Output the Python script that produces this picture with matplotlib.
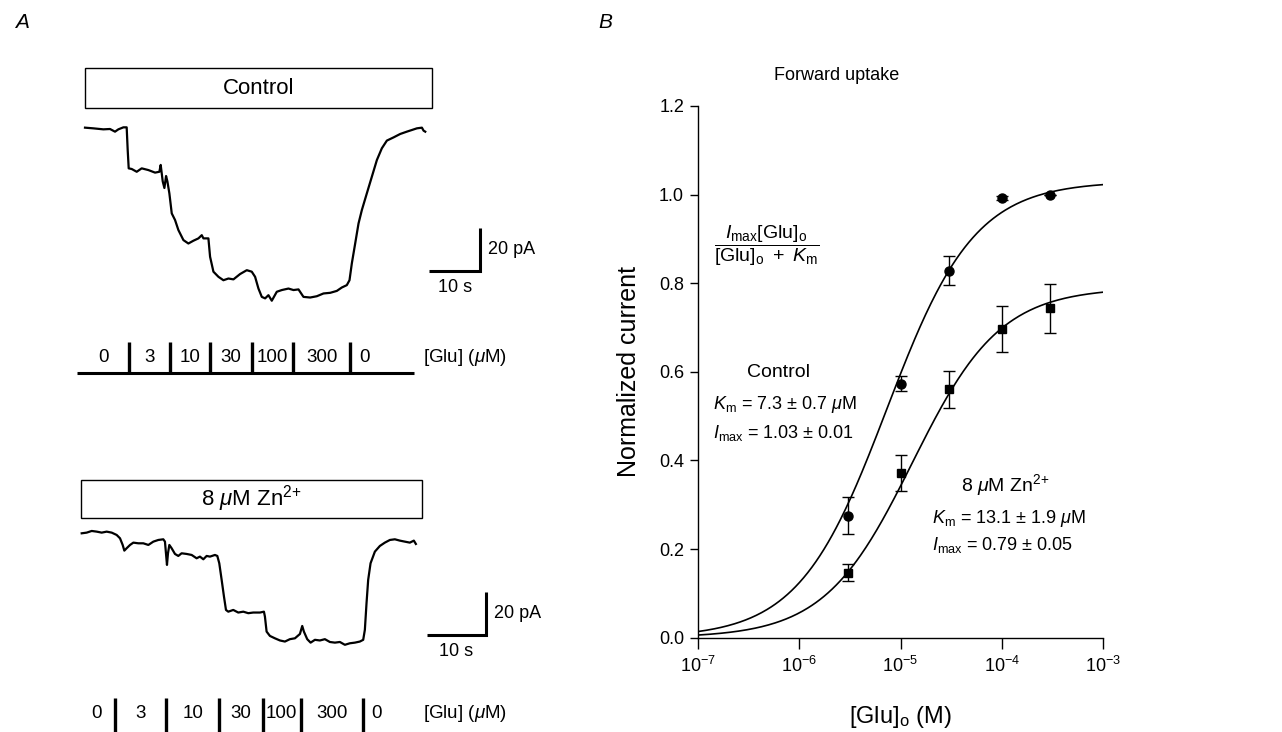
import numpy as np
import matplotlib.pyplot as plt
from matplotlib.patches import Rectangle

plt.rcParams['font.family'] = ['Liberation Sans', 'DejaVu Sans']
plt.rcParams['mathtext.fontset'] = 'custom'
plt.rcParams['mathtext.rm'] = 'Liberation Sans'
plt.rcParams['mathtext.it'] = 'Liberation Sans:italic'
plt.rcParams['mathtext.bf'] = 'Liberation Sans:bold'

# ---- panel A: current traces (time in s, current in pA) ----
ctrl_t = [0.0, 1.64, 3.62, 4.93, 5.92, 6.58, 7.57, 8.22, 8.42, 8.62, 9.21, 10.20,
          11.18, 12.50, 13.82, 14.67, 14.93, 15.33, 15.66, 15.99, 16.25, 16.64,
          17.11, 17.76, 18.42, 19.41, 20.39, 21.38, 22.37, 23.03, 23.36, 24.34,
          24.67, 25.33, 26.32, 27.30, 28.29, 29.28, 30.59, 31.91, 32.89, 33.55,
          34.21, 34.87, 35.53, 36.18, 36.84, 37.83, 38.82, 40.13, 41.12, 42.11,
          43.09, 44.41, 45.72, 47.04, 48.36, 49.67, 50.66, 51.64, 52.17, 52.63,
          53.29, 53.95, 54.61, 55.59, 56.58, 57.57, 58.55, 59.54, 60.86, 62.17,
          63.49, 64.47, 65.46, 66.45, 66.78, 67.11]
ctrl_i = [0.16, -0.16, -0.63, -0.47, -1.72, -0.63, 0.31, 0.31, -10.3, -18.9, -19.2,
          -20.5, -18.9, -19.7, -20.9, -20.5, -17.3, -25.0, -28.1, -22.5, -25.0,
          -30.6, -40.0, -43.1, -47.8, -52.5, -54.1, -52.8, -51.7, -50.2, -51.7,
          -51.7, -60.3, -67.3, -69.7, -71.3, -70.5, -70.9, -68.4, -66.6, -67.3,
          -69.7, -75.2, -79.1, -79.8, -78.3, -80.9, -76.7, -75.9, -75.2, -75.9,
          -75.6, -79.1, -79.4, -78.8, -77.5, -77.2, -76.3, -74.7, -73.6, -71.3,
          -63.4, -54.1, -44.7, -38.4, -30.6, -22.8, -15.0, -9.5, -5.9, -4.4, -2.8,
          -1.7, -0.94, -0.16, 0.16, -1.25, -1.72]

zn_t = [0.0, 0.84, 1.69, 2.53, 3.37, 4.21, 5.06, 5.90, 6.46, 6.91, 7.19, 7.58, 8.15,
        8.71, 9.55, 10.39, 11.24, 12.08, 12.92, 13.76, 14.04, 14.21, 14.38, 14.55,
        14.78, 15.17, 15.73, 16.29, 16.85, 17.70, 18.54, 19.38, 19.94, 20.51,
        21.07, 21.63, 22.47, 22.87, 23.20, 23.60, 23.99, 24.33, 24.72, 25.56,
        26.40, 27.25, 28.09, 28.93, 30.06, 30.73, 30.90, 31.18, 31.74, 32.58,
        33.43, 34.27, 35.11, 35.96, 36.80, 37.19, 37.47, 38.03, 38.60, 39.33,
        40.17, 41.01, 41.85, 42.70, 43.54, 44.38, 45.22, 46.07, 46.91, 47.47,
        47.75, 48.03, 48.31, 48.71, 49.44, 50.28, 51.12, 51.97, 52.81, 53.65,
        54.49, 55.34, 56.01, 56.35]
zn_i = [0.0, 0.31, 1.08, 0.77, 0.31, 0.77, 0.31, -0.77, -2.31, -5.38, -8.0, -6.9,
        -5.38, -4.31, -4.62, -4.62, -5.38, -3.85, -3.08, -2.77, -3.85, -9.23,
        -14.6, -9.23, -5.38, -6.92, -9.54, -10.46, -9.23, -9.54, -10.0, -11.54,
        -10.77, -12.0, -10.46, -10.77, -10.0, -10.46, -13.85, -21.5, -29.2,
        -35.4, -36.2, -35.4, -36.6, -36.2, -36.9, -36.6, -36.6, -36.2, -38.5,
        -45.4, -47.4, -48.5, -49.5, -50.0, -48.9, -48.5, -46.5, -42.8, -45.4,
        -48.9, -50.5, -49.2, -49.5, -48.9, -50.2, -50.5, -50.2, -51.5, -50.8,
        -50.5, -50.0, -49.2, -44.6, -32.3, -21.5, -13.85, -8.46, -5.85, -4.31,
        -3.08, -2.77, -3.38, -3.85, -4.31, -3.38, -4.92]

glu_steps = ['0', '3', '10', '30', '100', '300', '0']
ctrl_changes = [8.74, 16.77, 24.65, 32.88, 41.08, 52.27]   # s
zn_changes = [5.62, 14.3, 23.2, 30.5, 36.9, 47.4]          # s

# ---- panel B: concentration-response ----
glu_conc = [3e-6, 1e-5, 3e-5, 1e-4, 3e-4]
ctrl_mean = [0.275, 0.573, 0.828, 0.993, 1.0]
ctrl_err = [0.042, 0.017, 0.033, 0.005, 0.0]
zn_mean = [0.147, 0.371, 0.561, 0.697, 0.743]
zn_err = [0.02, 0.041, 0.042, 0.052, 0.055]
ctrl_km, ctrl_imax = 7.3e-6, 1.03
zn_km, zn_imax = 13.1e-6, 0.79

ZN_LABEL = r'8 $\mu$M Zn$^{2\!+}$'

W, H = 1282, 732
fig = plt.figure(figsize=(W / 100, H / 100), dpi=100)


def px_axes(x0, y0, x1, y1):
    return fig.add_axes([x0 / W, 1 - y1 / H, (x1 - x0) / W, (y1 - y0) / H])


def trace_block(top, bot, ox, oy, sec_px, pa_px, t, cur, changes, box, box_text,
                bar_corner, prot_y, tick_top, lab_y, prot_x):
    ax = px_axes(60, top, 520, bot)
    dx = lambda p: (p - ox) / sec_px
    dy = lambda p: (oy - p) / pa_px
    ax.set_xlim(dx(60), dx(520))
    ax.set_ylim(dy(bot), dy(top))
    ax.axis('off')

    ax.plot(t, cur, color='black', lw=1.6, solid_joinstyle='round')

    # solution box
    bx0, by0, bx1, by1 = box
    ax.add_patch(Rectangle((dx(bx0), dy(by1)), dx(bx1) - dx(bx0), dy(by0) - dy(by1),
                           fill=False, ec='black', lw=1.0))
    ax.text((dx(bx0) + dx(bx1)) / 2, (dy(by0) + dy(by1)) / 2, box_text,
            ha='center', va='center', fontsize=16)

    # scale bars 10 s / 20 pA
    cx, cy = dx(bar_corner[0]), dy(bar_corner[1])
    ax.plot([cx - 10, cx, cx], [cy, cy, cy + 20], color='black', lw=2.2,
            solid_joinstyle='miter', solid_capstyle='butt')
    ax.text(cx + 8 / sec_px, cy + 10, '20 pA', ha='left', va='center', fontsize=13)
    ax.text(cx - 5, cy - 16 / pa_px, '10 s', ha='center', va='center', fontsize=13)

    # glutamate application protocol
    x_start, x_end = dx(prot_x[0]), dx(prot_x[1])
    ax.plot([x_start, x_end], [dy(prot_y), dy(prot_y)], color='black', lw=2.2,
            solid_capstyle='butt', clip_on=False)
    for c in changes:
        ax.plot([c, c], [dy(prot_y), dy(tick_top)], color='black', lw=2.4,
                solid_capstyle='butt', clip_on=False)
    edges = [x_start] + changes
    for k, lab in enumerate(glu_steps):
        if k < len(changes):
            xc = (edges[k] + edges[k + 1]) / 2
        else:
            xc = changes[-1] + 14 / sec_px
        ax.text(xc, dy(lab_y), lab, ha='center', va='center', fontsize=13.5)
    ax.text(dx(423), dy(lab_y), r'[Glu] ($\mu$M)', ha='left', va='center',
            fontsize=13.5)
    return ax


trace_block(55, 385, 85, 128, 5.07, 2.135, ctrl_t, ctrl_i, ctrl_changes,
            (85, 68, 432, 108), 'Control', (480, 271), 373, 342, 357, (76.7, 414))
trace_block(470, 732, 81.7, 533.3, 5.93, 2.165, zn_t, zn_i, zn_changes,
            (80.7, 480, 421.7, 518), ZN_LABEL, (486, 635), 734, 698,
            713, (78, 415))

fig.text(15 / W, 1 - 22 / H, 'A', fontsize=15, style='italic', ha='left', va='center')
fig.text(598 / W, 1 - 22 / H, 'B', fontsize=15, style='italic', ha='left', va='center')

# ---- panel B ----
ax = px_axes(698, 106, 1103, 637.7)
xs = np.logspace(-7, -3, 300)
ax.plot(xs, ctrl_imax * xs / (xs + ctrl_km), color='black', lw=1.2)
ax.plot(xs, zn_imax * xs / (xs + zn_km), color='black', lw=1.2)
ax.errorbar(glu_conc, ctrl_mean, yerr=ctrl_err, fmt='o', color='black', ms=6.5,
            capsize=4, elinewidth=1, capthick=1)
ax.errorbar(glu_conc, zn_mean, yerr=zn_err, fmt='s', color='black', ms=5.5,
            capsize=4, elinewidth=1, capthick=1)

ax.set_xscale('log')
ax.set_xlim(1e-7, 1e-3)
ax.set_ylim(0, 1.2)
ax.set_xticks([1e-7, 1e-6, 1e-5, 1e-4, 1e-3])
ax.set_xticklabels([r'$10^{-7}$', r'$10^{-6}$', r'$10^{-5}$', r'$10^{-4}$', r'$10^{-3}$'])
ax.minorticks_off()
ax.set_yticks([0.0, 0.2, 0.4, 0.6, 0.8, 1.0, 1.2])
ax.set_yticklabels(['0.0', '0.2', '0.4', '0.6', '0.8', '1.0', '1.2'])
ax.tick_params(axis='x', direction='out', length=8, width=1, labelsize=13, pad=5)
ax.tick_params(axis='y', direction='out', length=6, width=1, labelsize=13, pad=4)
for s in ('top', 'right'):
    ax.spines[s].set_visible(False)
ax.spines['left'].set_linewidth(1.0)
ax.spines['bottom'].set_linewidth(1.0)

ax.set_ylabel('Normalized current', fontsize=18)
ax.yaxis.set_label_coords(-0.14, 0.5)
ax.set_xlabel(r'[Glu]$_{\rm o}$ (M)', fontsize=17)
ax.xaxis.set_label_coords(0.5, -0.125)

fig.text(837 / W, 1 - 75 / H, 'Forward uptake', fontsize=13, ha='center', va='center')

ax.text(0.17, 0.736, r'$\dfrac{I_{\rm max}[{\rm Glu}]_{\rm o}}{[{\rm Glu}]_{\rm o}\ +\ K_{\rm m}}$',
        transform=ax.transAxes, ha='center', va='center', fontsize=14)
ax.text(0.20, 0.498, 'Control', transform=ax.transAxes, ha='center', va='center',
        fontsize=14)
ax.text(0.037, 0.438, r'$K_{\rm m}$ = 7.3 ± 0.7 $\mu$M', transform=ax.transAxes,
        ha='left', va='center', fontsize=13)
ax.text(0.037, 0.385, r'$I_{\rm max}$ = 1.03 ± 0.01', transform=ax.transAxes,
        ha='left', va='center', fontsize=13)
ax.text(0.758, 0.287, ZN_LABEL, transform=ax.transAxes, ha='center',
        va='center', fontsize=14)
ax.text(0.578, 0.225, r'$K_{\rm m}$ = 13.1 ± 1.9 $\mu$M', transform=ax.transAxes,
        ha='left', va='center', fontsize=13)
ax.text(0.578, 0.174, r'$I_{\rm max}$ = 0.79 ± 0.05', transform=ax.transAxes,
        ha='left', va='center', fontsize=13)

fig.savefig('out.png', dpi=100)
